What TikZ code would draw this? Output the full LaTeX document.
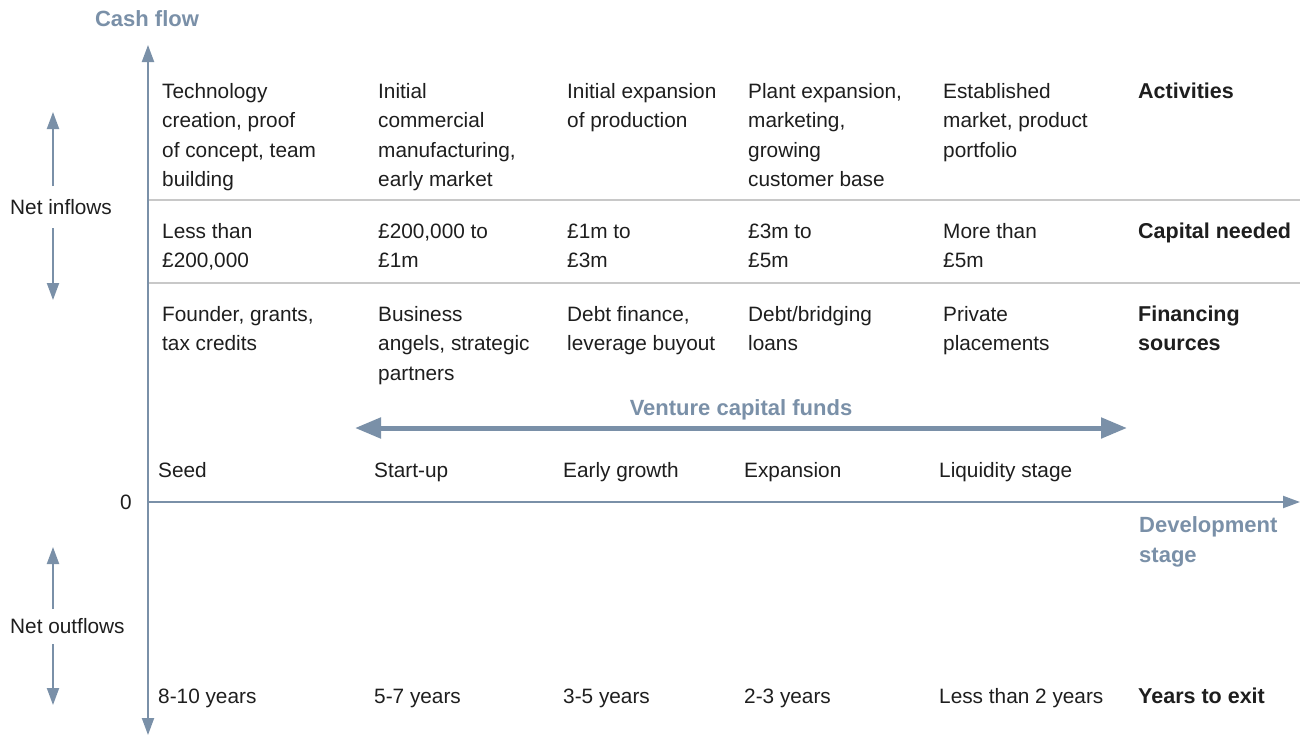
\documentclass[tikz,border=0pt]{standalone}
\usepackage{fontspec}
\setmainfont{Liberation Sans}
\usetikzlibrary{arrows.meta}
\definecolor{axisblue}{HTML}{7A90A8}
\definecolor{txt}{HTML}{1E1E1E}
\definecolor{sep}{HTML}{C8C8C8}
\begin{document}
\begin{tikzpicture}[x=1pt,y=-1pt,
  cell/.style={anchor=base west,inner sep=0pt,align=left,text=txt,
    font=\fontsize{20.8}{29.5}\selectfont},
  rowlabel/.style={cell,font=\fontsize{21.5}{29.5}\selectfont\bfseries},
  bluelabel/.style={inner sep=0pt,text=axisblue,
    font=\fontsize{22}{30}\selectfont\bfseries},
  axis/.style={draw=axisblue,line width=2pt,-{Triangle[length=17pt,width=12pt]}},
  bigarrow/.style={draw=axisblue,line width=5pt,{Triangle[length=26pt,width=20pt]}-{Triangle[length=26pt,width=20pt]}},
  sepline/.style={draw=sep,line width=1.2pt}]
\useasboundingbox (0,0) rectangle (1300,736);
\fill[white] (0,0) rectangle (1300,736);
% axes
\coordinate (o) at (148,502);
\coordinate (ytop) at (148,45);
\coordinate (ybot) at (148,735);
\coordinate (xend) at (1300,502);
\draw[sepline] (148,200) -- (1300,200);
\draw[sepline] (148,283) -- (1300,283);
\draw[axis] (o) -- (ytop);
\draw[axis] (o) -- (ybot);
\draw[axis] (o) -- (xend);
\node[bluelabel,anchor=base] (cash) at (147,26) {Cash flow};
\node[bluelabel,anchor=base west,align=left] (dev) at (1139,562) {Development\\stage};
\node[cell,anchor=base east] (zero) at (132,509) {0};
% net flows
\node[cell] (inflow) at (10,214) {Net inflows};
\node[cell] (outflow) at (10,633) {Net outflows};
\coordinate (in1) at (53,186);\coordinate (in1t) at (53,112);
\coordinate (in2) at (53,228);\coordinate (in2t) at (53,300);
\coordinate (out1) at (53,609);\coordinate (out1t) at (53,547);
\coordinate (out2) at (53,644);\coordinate (out2t) at (53,705);
\draw[axis] (in1) -- (in1t);
\draw[axis] (in2) -- (in2t);
\draw[axis] (out1) -- (out1t);
\draw[axis] (out2) -- (out2t);
% activities (anchor = baseline of last line)
\node[cell] (a1) at (162,186.5) {Technology\\creation, proof\\of concept, team\\building};
\node[cell] (a2) at (378,186.5) {Initial\\commercial\\manufacturing,\\early market};
\node[cell] (a3) at (567,127.5) {Initial expansion\\of production};
\node[cell] (a4) at (748,186.5) {Plant expansion,\\marketing,\\growing\\customer base};
\node[cell] (a5) at (943,157) {Established\\market, product\\portfolio};
\node[rowlabel] (al) at (1138,98) {Activities};
% capital
\node[cell] (c1) at (162,267.5) {Less than\\£200,000};
\node[cell] (c2) at (378,267.5) {£200,000 to\\£1m};
\node[cell] (c3) at (567,267.5) {£1m to\\£3m};
\node[cell] (c4) at (748,267.5) {£3m to\\£5m};
\node[cell] (c5) at (943,267.5) {More than\\£5m};
\node[rowlabel] (cl) at (1138,238) {Capital needed};
% financing
\node[cell] (f1) at (162,350.5) {Founder, grants,\\tax credits};
\node[cell] (f2) at (378,380) {Business\\angels, strategic\\partners};
\node[cell] (f3) at (567,350.5) {Debt finance,\\leverage buyout};
\node[cell] (f4) at (748,350.5) {Debt/bridging\\loans};
\node[cell] (f5) at (943,350.5) {Private\\placements};
\node[rowlabel] (fl) at (1138,350.5) {Financing\\sources};
% venture capital
\coordinate (vcl) at (355,428);
\coordinate (vcr) at (1127,428);
\draw[bigarrow] (vcl) -- (vcr);
\node[bluelabel,anchor=base] (vc) at (741,415) {Venture capital funds};
% stages
\node[cell] (s1) at (158,477) {Seed};
\node[cell] (s2) at (374,477) {Start-up};
\node[cell] (s3) at (563,477) {Early growth};
\node[cell] (s4) at (744,477) {Expansion};
\node[cell] (s5) at (939,477) {Liquidity stage};
% years
\node[cell] (y1) at (158,703) {8-10 years};
\node[cell] (y2) at (374,703) {5-7 years};
\node[cell] (y3) at (563,703) {3-5 years};
\node[cell] (y4) at (744,703) {2-3 years};
\node[cell] (y5) at (939,703) {Less than 2 years};
\node[rowlabel] (yl) at (1138,703) {Years to exit};
\end{tikzpicture}
\end{document}
